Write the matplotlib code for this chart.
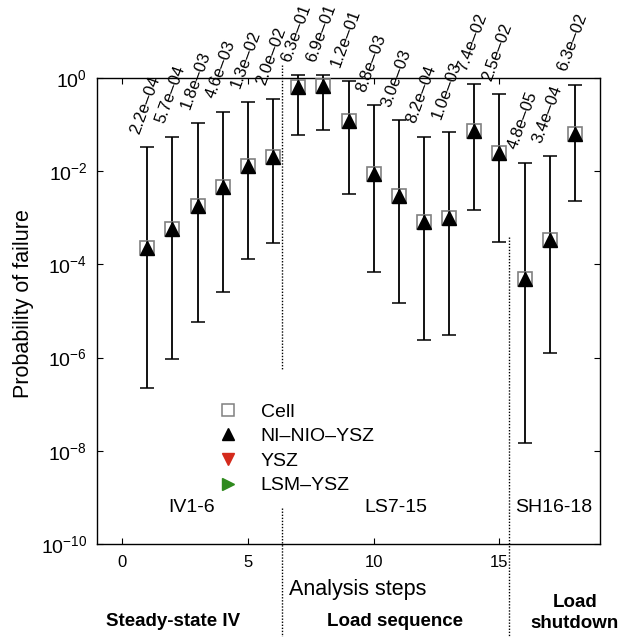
import numpy as np
import matplotlib
matplotlib.use("Agg")
import matplotlib.pyplot as plt
from matplotlib.lines import Line2D
from matplotlib.transforms import blended_transform_factory

plt.rcParams['font.family'] = ['Liberation Sans', 'DejaVu Sans']
plt.rcParams['mathtext.fontset'] = 'custom'
plt.rcParams['mathtext.rm'] = 'Liberation Sans'
plt.rcParams['mathtext.it'] = 'Liberation Sans:italic'
plt.rcParams['mathtext.bf'] = 'Liberation Sans:bold'

# === data ===
steps = np.arange(1, 19)
p_fail = np.array([2.2e-4, 5.7e-4, 1.8e-3, 4.6e-3, 1.3e-2, 2.0e-2,
                   6.3e-1, 6.9e-1, 1.2e-1, 8.8e-3, 3.0e-3, 8.2e-4,
                   1.0e-3, 7.4e-2, 2.5e-2, 4.8e-5, 3.4e-4, 6.3e-2])
upper = np.array([3.3e-2, 5.5e-2, 1.1e-1, 1.9e-1, 3.1e-1, 3.6e-1,
                  1.15, 1.15, 8.7e-1, 2.6e-1, 1.25e-1, 5.5e-2,
                  6.8e-2, 7.3e-1, 4.5e-1, 1.5e-2, 2.1e-2, 7.1e-1])
lower = np.array([2.2e-7, 9.5e-7, 5.8e-6, 2.6e-5, 1.3e-4, 2.9e-4,
                  6.0e-2, 7.6e-2, 3.2e-3, 6.9e-5, 1.5e-5, 2.4e-6,
                  3.0e-6, 1.5e-3, 3.1e-4, 1.5e-8, 1.25e-6, 2.3e-3])
legend_labels = ["Cell", "NI\u2013NIO\u2013YSZ", "YSZ", "LSM\u2013YSZ"]
phase_labels = ["IV1-6", "LS7-15", "SH16-18"]
phase_x = [2.75, 10.9, 17.15]
section_titles = ["Steady-state IV", "Load sequence", "Load\nshutdown"]
boundaries = [6.35, 15.4]

# === figure ===
fig = plt.figure(figsize=(6.35, 6.37), dpi=100)
ax = fig.add_axes([97/635, 1-544/637, 503/635, 466/637])

ax.errorbar(steps, p_fail, yerr=[p_fail-lower, upper-p_fail], fmt='none',
            ecolor='black', elinewidth=1.3, capsize=5, capthick=1.1,
            clip_on=False, zorder=2)
ax.plot(steps, p_fail, 's', ms=10, mfc='none', mec='#808080', mew=1.2, zorder=3)
ax.plot(steps, p_fail, '^', ms=9.5, color='black', zorder=4)

# rotated value labels above each upper cap
for x, p, u in zip(steps, p_fail, upper):
    txt = ("%.1e" % p).replace('-', '\u2013')
    ax.annotate(txt, (x, u), xytext=(-6, 9), textcoords='offset points',
                rotation=70, rotation_mode='anchor', ha='left', va='baseline',
                fontsize=12, annotation_clip=False)

ax.set_yscale('log')
ax.set_ylim(1e-10, 1e0)
ax.set_xlim(-1, 19)
ax.set_yticks([1e0, 1e-2, 1e-4, 1e-6, 1e-8, 1e-10])
ax.yaxis.set_minor_locator(matplotlib.ticker.NullLocator())
ax.set_xticks([0, 5, 10, 15])
ax.tick_params(direction='in', top=True, right=True, length=4, width=0.8)
ax.tick_params(axis='y', labelsize=14, pad=7)
ax.tick_params(axis='x', labelsize=12, pad=8)
for s in ax.spines.values():
    s.set_linewidth(1.0)

ax.set_xlabel("Analysis steps", fontsize=15.5, va='center')
ax.xaxis.set_label_coords((358-97)/503, (544-590)/466)
ax.set_ylabel("Probability of failure", fontsize=15.5, va='center')
ax.yaxis.set_label_coords((23-97)/503, (544-304)/466)

for x, t in zip(phase_x, phase_labels):
    ax.text(x, 6e-10, t, fontsize=14, ha='center', va='center')

# section dividers (drawn across axes and label area)
tr = blended_transform_factory(ax.transData, fig.transFigure)
segs = [[(1-65/637, 1-370/637), (1-508/637, 0.0)], [(1-237/637, 0.0)]]
for bx, parts in zip(boundaries, segs):
    for y0, y1 in parts:
        fig.add_artist(Line2D([bx, bx], [y0, y1], transform=tr, color='black',
                              lw=1.0, ls=(0, (1, 1.2))))

# bottom section titles
fig.text(173/635, 1-621/637, section_titles[0], fontsize=13.5, fontweight='bold',
         ha='center', va='center')
fig.text(395/635, 1-621/637, section_titles[1], fontsize=13.5, fontweight='bold',
         ha='center', va='center')
fig.text(575/635, 1-613/637, section_titles[2], fontsize=13.5, fontweight='bold',
         ha='center', va='center', linespacing=1.25)

handles = [Line2D([], [], ls='none', marker='s', ms=8.5, mfc='none', mec='#808080', mew=1.1),
           Line2D([], [], ls='none', marker='^', ms=8.5, color='black'),
           Line2D([], [], ls='none', marker='v', ms=8.5, color='#d42a1c'),
           Line2D([], [], ls='none', marker='>', ms=8.5, color='#2f8a1e')]
fig.legend(handles, legend_labels, loc='upper left',
           bbox_to_anchor=(214/635, 1-403/637), frameon=False, fontsize=14,
           handlelength=1.4, handletextpad=1.0, labelspacing=0.36,
           borderpad=0, borderaxespad=0)

fig.savefig("out.png", dpi=100)
